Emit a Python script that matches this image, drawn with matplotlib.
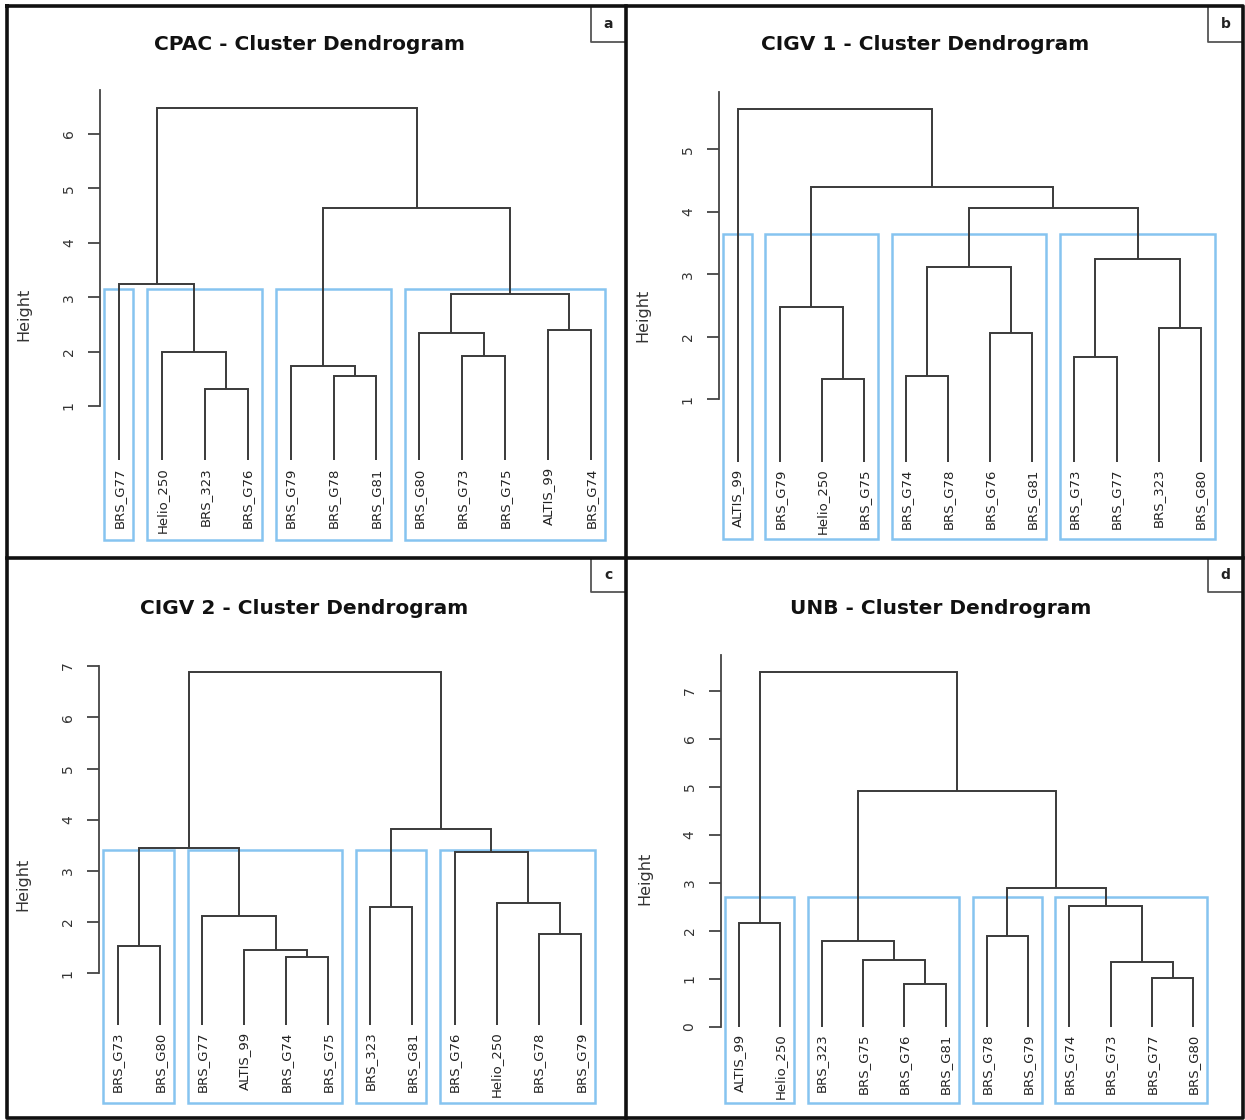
import matplotlib
matplotlib.use("Agg")
import matplotlib.pyplot as plt
from matplotlib.patches import Rectangle
from matplotlib.lines import Line2D

# ---------------- data ----------------
titles = ["CPAC - Cluster Dendrogram", "CIGV 1 - Cluster Dendrogram",
          "CIGV 2 - Cluster Dendrogram", "UNB - Cluster Dendrogram"]
panel_letters = ["a", "b", "c", "d"]
n_clusters = 4

# leaf labels in plotting order
labels_a = ["BRS_G77", "Helio_250", "BRS_323", "BRS_G76", "BRS_G79", "BRS_G78",
            "BRS_G81", "BRS_G80", "BRS_G73", "BRS_G75", "ALTIS_99", "BRS_G74"]
labels_b = ["ALTIS_99", "BRS_G79", "Helio_250", "BRS_G75", "BRS_G74", "BRS_G78",
            "BRS_G76", "BRS_G81", "BRS_G73", "BRS_G77", "BRS_323", "BRS_G80"]
labels_c = ["BRS_G73", "BRS_G80", "BRS_G77", "ALTIS_99", "BRS_G74", "BRS_G75",
            "BRS_323", "BRS_G81", "BRS_G76", "Helio_250", "BRS_G78", "BRS_G79"]
labels_d = ["ALTIS_99", "Helio_250", "BRS_323", "BRS_G75", "BRS_G76", "BRS_G81",
            "BRS_G78", "BRS_G79", "BRS_G74", "BRS_G73", "BRS_G77", "BRS_G80"]

# merges (R style: negative = leaf position, positive = earlier merge) and heights
merge_a = [(-3, -4), (-6, -7), (-5, 2), (-9, -10), (-2, 1), (-8, 4),
           (-11, -12), (6, 7), (-1, 5), (3, 8), (9, 10)]
height_a = [1.31, 1.55, 1.74, 1.91, 1.99, 2.35, 2.40, 3.06, 3.245, 4.64, 6.48]

merge_b = [(-3, -4), (-5, -6), (-9, -10), (-7, -8), (-11, -12), (-2, 1),
           (2, 4), (3, 5), (7, 8), (6, 9), (-1, 10)]
height_b = [1.33, 1.37, 1.68, 2.06, 2.14, 2.48, 3.12, 3.24, 4.06, 4.40, 5.645]

merge_c = [(-5, -6), (-4, 1), (-1, -2), (-11, -12), (-3, 2), (-7, -8),
           (-10, 4), (-9, 7), (3, 5), (6, 8), (9, 10)]
height_c = [1.31, 1.455, 1.54, 1.76, 2.11, 2.29, 2.37, 3.36, 3.45, 3.82, 6.89]

merge_d = [(-5, -6), (-11, -12), (-10, 2), (-4, 1), (-3, 4), (-7, -8),
           (-1, -2), (-9, 3), (6, 8), (5, 9), (7, 10)]
height_d = [0.90, 1.01, 1.34, 1.39, 1.78, 1.89, 2.17, 2.52, 2.88, 4.92, 7.40]

y_ticks_a = [1, 2, 3, 4, 5, 6]
y_ticks_b = [1, 2, 3, 4, 5]
y_ticks_c = [1, 2, 3, 4, 5, 6, 7]
y_ticks_d = [0, 1, 2, 3, 4, 5, 6, 7]

# ---------------- layout (pixels) ----------------
W, H = 1245, 1120
# leaf1_x, leaf_spacing, y_ref_px, y_ref_val, px_per_unit, bottom_px, top_px, spine_low
layouts = [
    (119.0, 42.9, 406.0, 1.0, 54.4, 539.5, 90.0, 1.0),
    (737.7, 42.09, 399.3, 1.0, 62.5, 539.3, 91.7, 1.0),
    (117.7, 42.1, 973.3, 1.0, 51.2, 1102.7, 666.0, 1.0),
    (739.0, 41.3, 1026.7, 0.0, 48.0, 1102.7, 655.0, 0.0),
]
title_pos = [(309, 45), (925, 45), (304, 609), (941, 609)]
letter_box = [(591, 6, 626, 42), (1208, 6, 1243, 42),
              (591, 558, 626, 592), (1208, 558, 1243, 592)]

line_col = "#3a3a3a"
rect_col = "#86c4f0"

fig = plt.figure(figsize=(W / 100, H / 100), dpi=100)
fig.patch.set_facecolor("white")


def fx(px):
    return px / W


def fy(py):
    return 1 - py / H


def leaves_of(node, merges):
    if node < 0:
        return [-node]
    a, b = merges[node - 1]
    return leaves_of(a, merges) + leaves_of(b, merges)


panels = [
    (labels_a, merge_a, height_a, y_ticks_a),
    (labels_b, merge_b, height_b, y_ticks_b),
    (labels_c, merge_c, height_c, y_ticks_c),
    (labels_d, merge_d, height_d, y_ticks_d),
]

for idx, ((labels, merges, heights, yticks), lay) in enumerate(zip(panels, layouts)):
    leaf1, sp, yref_px, yref_val, unit, bot_px, top_px, spine_low = lay
    n = len(labels)
    xlo, xhi = 0.56, n + 0.44
    left_px = leaf1 - (1 - xlo) * sp
    right_px = leaf1 + (xhi - 1) * sp
    ylo = yref_val - (bot_px - yref_px) / unit
    yhi = yref_val + (yref_px - top_px) / unit
    ax = fig.add_axes([fx(left_px), fy(bot_px), fx(right_px - left_px),
                       (bot_px - top_px) / H])
    ax.set_xlim(xlo, xhi)
    ax.set_ylim(ylo, yhi)
    ax.patch.set_alpha(0)

    # node positions
    pos = {}
    for i in range(1, n + 1):
        pos[-i] = (float(i), 0.0)
    for j, ((a, b), h) in enumerate(zip(merges, heights), start=1):
        xa, ya = pos[a]
        xb, yb = pos[b]
        ax.plot([xa, xa, xb, xb], [ya, h, h, yb], color=line_col, lw=1.4,
                solid_joinstyle="miter", solid_capstyle="butt")
        pos[j] = ((xa + xb) / 2.0, h)

    # leaf labels
    for i, lab in enumerate(labels, start=1):
        ax.annotate(lab, (i, 0), xytext=(0, -5), textcoords="offset points",
                    rotation=90, ha="center", va="top", fontsize=9.5,
                    color="#222222", annotation_clip=False)

    # rect.hclust style boxes
    k = n_clusters
    top_ids = set(range(len(merges) - (k - 1) + 1, len(merges) + 1))
    clusters = []
    for j in top_ids:
        for c in merges[j - 1]:
            if c not in top_ids:
                clusters.append(leaves_of(c, merges))
    sorted_h = sorted(heights, reverse=True)
    rect_top = (sorted_h[k - 2] + sorted_h[k - 1]) / 2.0
    for cl in clusters:
        x0 = min(cl) - 0.34
        x1 = max(cl) + 0.33
        ax.add_patch(Rectangle((x0, ylo), x1 - x0, rect_top - ylo, fill=False,
                               edgecolor=rect_col, lw=1.8, clip_on=False))

    # axis styling
    for s in ["top", "right", "bottom"]:
        ax.spines[s].set_visible(False)
    ax.spines["left"].set_bounds(spine_low, yhi)
    ax.spines["left"].set_color("#444444")
    ax.spines["left"].set_linewidth(1.3)
    ax.set_xticks([])
    ax.set_yticks(yticks)
    ax.set_yticklabels([str(t) for t in yticks], rotation=90, va="center",
                       fontsize=10, color="#333333")
    ax.tick_params(axis="y", length=8.5, width=1.3, color="#444444", pad=9)

    # Height label
    fig.text(fx(left_px - 76), fy((bot_px + top_px) / 2), "Height", rotation=90,
             ha="center", va="center", fontsize=11.5, color="#333333")

    # title
    tx, ty = title_pos[idx]
    fig.text(fx(tx), fy(ty), titles[idx], ha="center", va="center",
             fontsize=14.5, fontweight="bold", color="#111111")

    # corner letter box
    bx0, by0, bx1, by1 = letter_box[idx]
    fig.add_artist(Line2D([fx(bx0), fx(bx0), fx(bx1)], [fy(by0), fy(by1), fy(by1)],
                          color="#555555", lw=1.3))
    fig.text(fx((bx0 + bx1) / 2), fy((by0 + by1) / 2), panel_letters[idx],
             ha="center", va="center", fontsize=10, fontweight="bold",
             color="#222222")

# panel frames
frame_kw = dict(color="#111111", lw=2.6)
fig.add_artist(Line2D([fx(7), fx(1243), fx(1243), fx(7), fx(7)],
                      [fy(6), fy(6), fy(1118), fy(1118), fy(6)], **frame_kw))
fig.add_artist(Line2D([fx(626), fx(626)], [fy(6), fy(1118)], **frame_kw))
fig.add_artist(Line2D([fx(7), fx(1243)], [fy(558), fy(558)], **frame_kw))

fig.savefig("out.png", dpi=100, facecolor="white")
